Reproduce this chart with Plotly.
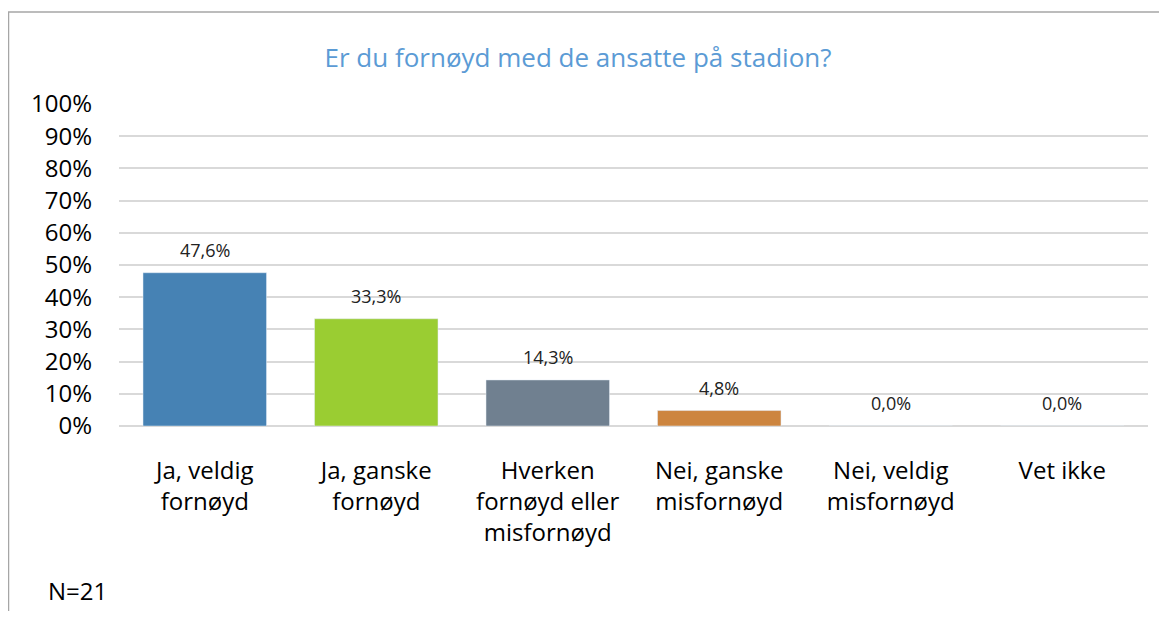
import plotly.graph_objects as go

kategorier = ["Ja, veldig<br>fornøyd", "Ja, ganske<br>fornøyd", "Hverken<br>fornøyd eller<br>misfornøyd",
              "Nei, ganske<br>misfornøyd", "Nei, veldig<br>misfornøyd", "Vet ikke"]
andeler = [0.476, 0.333, 0.143, 0.048, 0.0, 0.0]
farger = ["#4682B4", "#9ACD32", "#708090", "#CD853F", "#4682B4", "#4682B4"]
y_ticks = [0, 0.1, 0.2, 0.3, 0.4, 0.5, 0.6, 0.7, 0.8, 0.9, 1.0]

FONT = "Open Sans"
# the page adds an 8px body margin, so the figure is 8px smaller than the window
W, H = 1151, 603
L, R, T, B = 111, 11, 96, 185

labels = [f"{v * 100:.1f}%".replace(".", ",") for v in andeler]
pos = list(range(len(kategorier)))

fig = go.Figure(go.Bar(
    x=pos,
    y=andeler,
    marker_color=farger,
    width=0.72,
    hoverinfo="x+y",
))

for i, (v, t) in enumerate(zip(andeler, labels)):
    fig.add_annotation(x=i, y=v, text=t, showarrow=False, yshift=23,
                       xanchor="center", yanchor="middle",
                       font=dict(size=18, color="#222222", family=FONT))

pw, ph = W - L - R, H - T - B
def px_x(x):
    return (x - L) / pw
def px_y(y):
    return (H - B - y) / ph

fig.add_shape(type="line", xref="paper", yref="paper",
              x0=px_x(0), x1=px_x(W), y0=px_y(4), y1=px_y(4),
              line=dict(color="#A6A6A6", width=1.5))
fig.add_shape(type="line", xref="paper", yref="paper",
              x0=px_x(0.5), x1=px_x(0.5), y0=px_y(4), y1=px_y(H),
              line=dict(color="#A6A6A6", width=1.5))

fig.add_annotation(text="N=21", xref="paper", yref="paper", x=px_x(38), y=px_y(582),
                   xanchor="left", yanchor="middle", showarrow=False,
                   font=dict(size=24, color="#000000", family=FONT))

fig.update_layout(
    width=W, height=H,
    margin=dict(l=L, r=R, t=T, b=B),
    plot_bgcolor="white",
    paper_bgcolor="white",
    showlegend=False,
    title=dict(text="Er du fornøyd med de ansatte på stadion?", x=570 / W, xanchor="center",
               y=1 - 50 / H, yanchor="middle",
               font=dict(size=26, color="#5B9BD5", family=FONT)),
    font=dict(family=FONT, color="#000000"),
)
fig.update_xaxes(
    tickvals=pos, ticktext=kategorier,
    range=[-0.5, len(kategorier) - 0.5],
    tickfont=dict(size=24, color="#000000"),
    showgrid=False, showline=False, ticks="", ticklabelstandoff=28,
)
fig.update_yaxes(
    range=[0, 1], tickvals=y_ticks, tickformat=".0%",
    tickfont=dict(size=24, color="#000000"),
    showgrid=True, gridcolor="#D9D9D9", gridwidth=2,
    zeroline=True, zerolinecolor="#D9D9D9", zerolinewidth=2,
    showline=False, ticks="", ticklabelstandoff=26,
)

fig.write_html("out.html")
